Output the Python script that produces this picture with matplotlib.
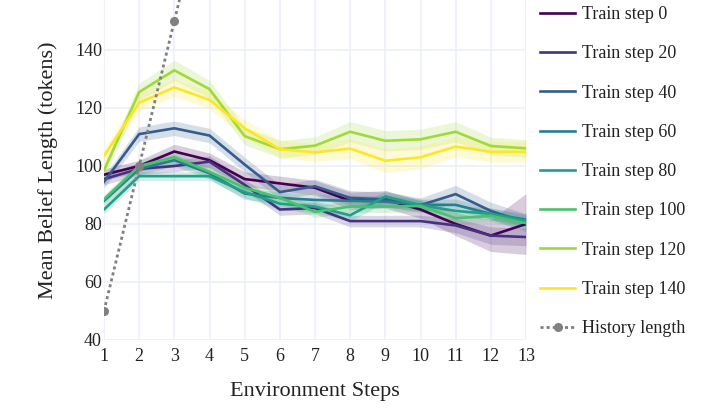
import numpy as np
import matplotlib
matplotlib.use("Agg")
import matplotlib.pyplot as plt
from matplotlib.lines import Line2D

plt.rcParams['font.family'] = ['Liberation Serif', 'DejaVu Serif']

env_steps = [1, 2, 3, 4, 5, 6, 7, 8, 9, 10, 11, 12, 13]
train_steps = [0, 20, 40, 60, 80, 100, 120, 140]

# mean belief length per train step
belief_0 = [97.0, 100.0, 105.0, 102.0, 95.5, 94.0, 92.5, 88.0, 88.5, 85.0, 80.0, 76.0, 80.0]
belief_20 = [95.5, 99.0, 100.0, 101.5, 93.5, 85.0, 85.5, 81.0, 81.0, 81.0, 79.5, 76.0, 75.5]
belief_40 = [94.5, 111.0, 113.0, 110.5, 100.5, 91.0, 93.0, 89.0, 88.5, 86.5, 90.3, 84.5, 80.5]
belief_60 = [88.0, 99.0, 102.0, 97.5, 90.5, 89.0, 88.3, 88.0, 87.7, 86.6, 86.6, 83.5, 81.5]
belief_80 = [85.0, 96.5, 96.5, 96.5, 91.0, 87.0, 86.0, 83.0, 89.5, 86.5, 84.5, 83.5, 81.0]
belief_100 = [88.5, 100.0, 103.0, 98.0, 92.5, 89.0, 84.2, 86.0, 86.0, 86.2, 82.0, 82.8, 80.3]
belief_120 = [98.5, 125.5, 133.0, 126.5, 110.3, 105.8, 107.0, 111.8, 108.7, 109.2, 111.8, 106.9, 106.1]
belief_140 = [103.5, 121.8, 127.1, 122.8, 113.0, 105.8, 104.7, 106.0, 101.8, 103.0, 106.7, 104.9, 104.9]

# half width of the shaded band
band_0 = [2.0, 2.0, 2.5, 2.5, 2.5, 2.5, 2.5, 3.0, 3.0, 3.0, 4.0, 5.5, 10.5]
band_20 = [2.0, 2.0, 2.0, 2.0, 2.0, 2.0, 2.0, 2.0, 2.0, 2.0, 2.5, 3.0, 3.0]
band_40 = [2.0, 2.5, 2.5, 2.5, 2.5, 2.5, 2.5, 2.5, 2.5, 2.5, 3.0, 3.0, 3.0]
band_60 = [1.5, 2.0, 2.0, 2.0, 2.0, 2.0, 2.0, 2.0, 2.0, 2.0, 2.0, 2.0, 2.0]
band_80 = [1.5, 1.5, 1.5, 1.5, 2.0, 2.0, 2.0, 2.0, 2.0, 2.0, 2.0, 2.0, 2.0]
band_100 = [1.5, 2.0, 2.0, 2.0, 2.0, 2.0, 2.0, 2.0, 2.0, 2.0, 2.0, 2.0, 2.0]
band_120 = [2.5, 3.0, 3.5, 3.0, 3.0, 3.0, 3.0, 3.5, 3.5, 3.5, 3.5, 3.0, 3.0]
band_140 = [2.5, 3.0, 3.0, 3.0, 3.0, 3.0, 3.0, 3.5, 4.0, 4.0, 3.5, 3.5, 3.5]

history_length = [50, 100, 150, 200, 250, 300, 350, 400, 450, 500, 550, 600, 650]

y_ticks = [40, 60, 80, 100, 120, 140]


def main():
    W, H = 718, 417
    fig = plt.figure(figsize=(W / 100, H / 100), dpi=100)
    ax = fig.add_axes([104 / W, 1 - 340 / H, (526 - 104) / W, 340 / H])
    text_color = '#222222'
    grid_color = '#EBF0F8'

    means = [belief_0, belief_20, belief_40, belief_60, belief_80, belief_100, belief_120, belief_140]
    bands = [band_0, band_20, band_40, band_60, band_80, band_100, band_120, band_140]
    colors = plt.cm.viridis(np.linspace(0, 1, len(train_steps)))

    x = np.array(env_steps)
    handles = []
    for i in range(len(train_steps)):
        m = np.array(means[i])
        b = np.array(bands[i])
        ax.fill_between(x, m - b, m + b, color=colors[i], alpha=0.2, linewidth=0)
        ax.plot(x, m, c=colors[i], lw=1.9, solid_joinstyle='miter')
        handles.append(Line2D([], [], c=colors[i], lw=1.9, label="Train step %d" % train_steps[i]))

    ax.plot(x, history_length, c='#808080', lw=2.0, ls=(0, (1.1, 1.1)),
            marker='o', markersize=5.5)
    handles.append(Line2D([], [], c='#808080', lw=2.0, ls=(0, (1.1, 1.1)),
                          marker='o', markersize=5.5, label="History length"))

    ax.set_xlim(1, 13)
    ax.set_ylim(40, 40 + 340 / 2.9)
    ax.set_xticks(env_steps)
    ax.set_yticks(y_ticks)
    ax.grid(True, color=grid_color, lw=1.1)
    ax.set_axisbelow(True)
    for s in ax.spines.values():
        s.set_visible(False)
    ax.tick_params(axis='both', length=0, labelsize=13, colors=text_color)
    ax.tick_params(axis='x', pad=6)
    ax.tick_params(axis='y', pad=1.5)
    ax.set_xlabel("Environment Steps", fontsize=16, color=text_color, labelpad=12)
    ax.set_ylabel("Mean Belief Length (tokens)", fontsize=16, color=text_color, labelpad=12)

    fig.legend(handles=handles, loc='upper left', bbox_to_anchor=(540 / W, 1 - 6 / H),
               frameon=False, fontsize=13, labelspacing=1.235, handlelength=1.95,
               handletextpad=0.35, borderpad=0, borderaxespad=0, labelcolor=text_color)

    fig.savefig('out.png', dpi=100)
    return 0


if __name__ == "__main__":
    main()
